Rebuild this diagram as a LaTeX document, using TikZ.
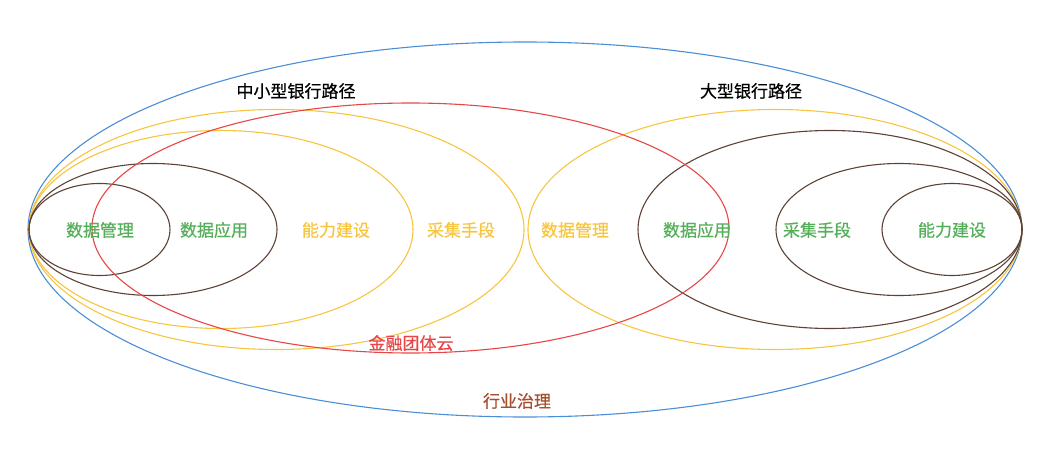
\documentclass[tikz,border=0pt]{standalone}
\usepackage{fontspec}
\setmainfont{Noto Sans CJK SC}[FakeBold=0.6]
\definecolor{cblue}{HTML}{4A8FD6}
\definecolor{cyellow}{HTML}{F7C540}
\definecolor{cbrown}{HTML}{5E4236}
\definecolor{cred}{HTML}{E84646}
\definecolor{cgreen}{HTML}{55AF5A}
\definecolor{csienna}{HTML}{A4502E}
\begin{document}
\begin{tikzpicture}[x=1pt,y=-1pt,
  ring/.style={line width=1.1pt},
  lbl/.style={font=\fontsize{17}{19}\selectfont, inner sep=0pt, anchor=center}]
\useasboundingbox (0,0) rectangle (1045,452);
% outer blue
\draw[ring,cblue] (525,229.5) ellipse [x radius=497, y radius=187.5];
% left group
\draw[ring,cyellow] (276.5,229.5) ellipse [x radius=247.5, y radius=120];
\draw[ring,cyellow] (221,229.5) ellipse [x radius=192, y radius=99];
\draw[ring,cbrown] (153,229.5) ellipse [x radius=124, y radius=66];
\draw[ring,cbrown] (99.5,229.5) ellipse [x radius=70.5, y radius=46];
% right group
\draw[ring,cyellow] (775,229.5) ellipse [x radius=247, y radius=120];
\draw[ring,cbrown] (830,229.5) ellipse [x radius=192, y radius=99];
\draw[ring,cbrown] (899,229.5) ellipse [x radius=123, y radius=66];
\draw[ring,cbrown] (952,229.5) ellipse [x radius=70, y radius=46];
% red
\draw[ring,cred] (410.5,228) ellipse [x radius=318.5, y radius=125];
% labels
\node[lbl,black] (l1) at (296,91) {中小型银行路径};
\node[lbl,black] (l2) at (751,91) {大型银行路径};
\node[lbl,cgreen] (a1) at (100,230) {数据管理};
\node[lbl,cgreen] (a2) at (214,230) {数据应用};
\node[lbl,cyellow] (a3) at (336,230) {能力建设};
\node[lbl,cyellow] (a4) at (461,230) {采集手段};
\node[lbl,cyellow] (b1) at (575,230) {数据管理};
\node[lbl,cgreen] (b2) at (697,230) {数据应用};
\node[lbl,cgreen] (b3) at (817,230) {采集手段};
\node[lbl,cgreen] (b4) at (952,230) {能力建设};
\node[lbl,cred] (c1) at (411,343) {金融团体云};
\node[lbl,csienna] (c2) at (517,401) {行业治理};
\end{tikzpicture}
\end{document}
